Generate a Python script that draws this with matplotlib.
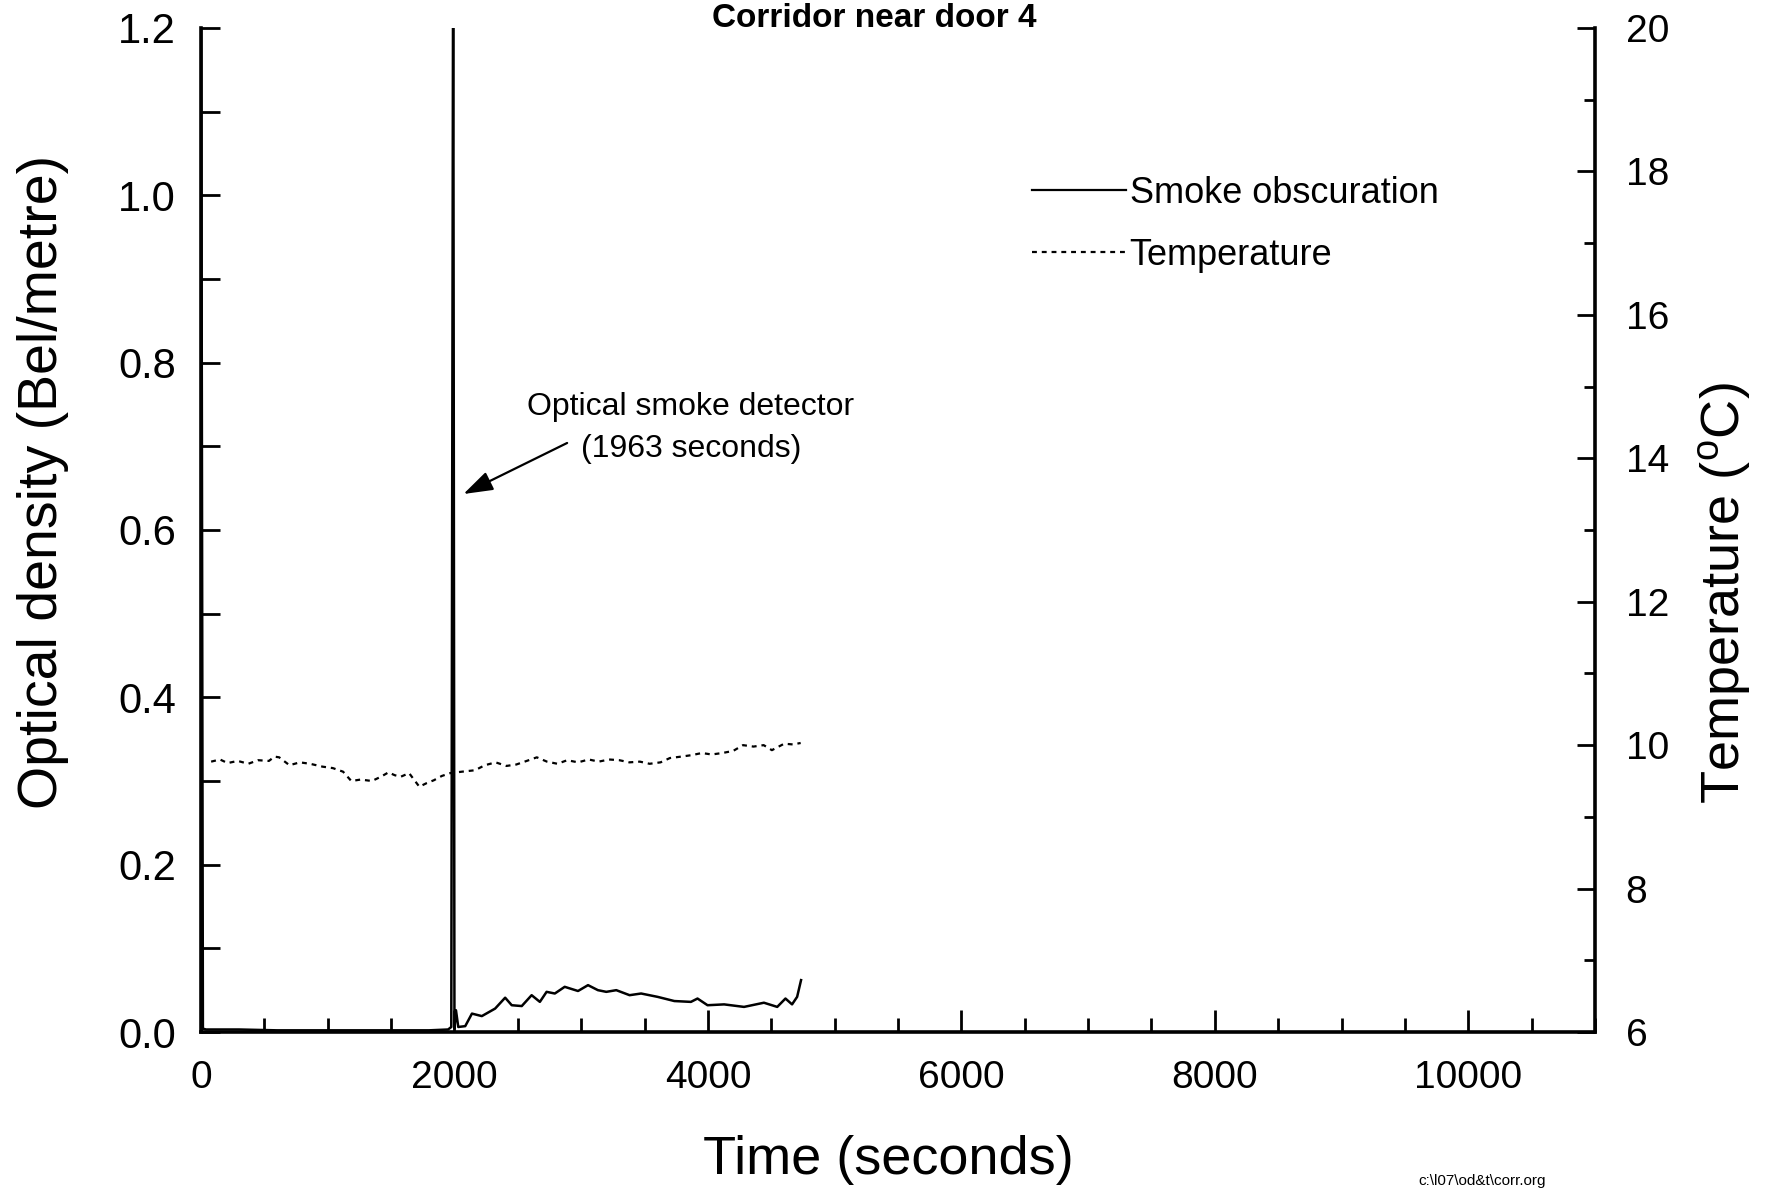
import matplotlib
matplotlib.use('Agg')
import matplotlib.pyplot as plt
from matplotlib.ticker import MultipleLocator
from matplotlib.lines import Line2D

plt.rcParams['font.family'] = ['Liberation Sans', 'DejaVu Sans']
plt.rcParams['mathtext.fontset'] = 'custom'
plt.rcParams['mathtext.rm'] = 'Liberation Sans'

# smoke obscuration (Bel/metre)
smoke_t = [0, 15, 40, 300, 600, 900, 1200, 1500, 1800, 1950, 1975, 1990, 2000,
           2012, 2030, 2085, 2138, 2216, 2321, 2400, 2452, 2531, 2609, 2674, 2727,
           2792, 2870, 2975, 3054, 3132, 3198, 3277, 3382, 3473, 3603, 3735, 3866,
           3918, 3997, 4128, 4285, 4442, 4547, 4612, 4664, 4704, 4735]
smoke_od = [1.35, 0.004, 0.003, 0.003, 0.002, 0.002, 0.002, 0.002, 0.002, 0.003, 0.006, 1.35, 0.004,
            0.026, 0.006, 0.007, 0.022, 0.019, 0.028, 0.041, 0.032, 0.031, 0.044, 0.036, 0.048,
            0.046, 0.054, 0.049, 0.056, 0.050, 0.048, 0.050, 0.044, 0.046, 0.042, 0.037, 0.036,
            0.040, 0.032, 0.033, 0.030, 0.035, 0.030, 0.040, 0.033, 0.042, 0.062]

# temperature (deg C)
temp_t = [80, 150, 210, 290, 373, 450, 536, 580, 617, 698, 780, 861, 959, 1040, 1121,
          1186, 1260, 1349, 1420, 1479, 1530, 1577, 1642, 1723, 1780, 1837, 1900, 1967,
          2060, 2162, 2240, 2325, 2410, 2488, 2570, 2650, 2730, 2813, 2890, 2975, 3060,
          3138, 3220, 3301, 3380, 3463, 3540, 3626, 3700, 3789, 3870, 3952, 4030, 4114,
          4200, 4277, 4360, 4440, 4505, 4602, 4670, 4732]
temp_c = [9.77, 9.80, 9.75, 9.78, 9.74, 9.79, 9.78, 9.84, 9.83, 9.72, 9.76, 9.74, 9.70, 9.68, 9.63,
          9.50, 9.52, 9.50, 9.56, 9.62, 9.58, 9.56, 9.61, 9.42, 9.47, 9.51, 9.57, 9.61,
          9.63, 9.65, 9.72, 9.76, 9.71, 9.73, 9.78, 9.83, 9.77, 9.74, 9.79, 9.76, 9.80,
          9.77, 9.80, 9.79, 9.76, 9.77, 9.74, 9.76, 9.82, 9.84, 9.86, 9.89, 9.87, 9.89,
          9.92, 10.00, 9.98, 10.00, 9.93, 10.02, 10.01, 10.03]

detector_t = 1963

W, H = 1774, 1196
fig = plt.figure(figsize=(W / 100, H / 100), dpi=100)
ax = fig.add_axes([201 / W, 1 - 1032 / H, (1595 - 201) / W, (1032 - 28) / H])
ax2 = ax.twinx()

ax.plot(smoke_t, smoke_od, color='black', lw=1.8)
ax2.plot(temp_t, temp_c, color='black', lw=1.6, ls=(0, (2.2, 2.2)))

ax.set_xlim(0, 11000)
ax.set_ylim(0, 1.2)
ax2.set_ylim(6, 20)

for s in ('top', 'right'):
    ax.spines[s].set_visible(False)
for s in ('top', 'left', 'bottom'):
    ax2.spines[s].set_visible(False)
ax.spines['left'].set_linewidth(2.6)
ax.spines['bottom'].set_linewidth(2.6)
ax2.spines['right'].set_linewidth(2.6)

ax.xaxis.set_major_locator(MultipleLocator(2000))
ax.xaxis.set_minor_locator(MultipleLocator(500))
ax.yaxis.set_major_locator(MultipleLocator(0.2))
ax.yaxis.set_minor_locator(MultipleLocator(0.1))
ax2.yaxis.set_major_locator(MultipleLocator(2))
ax2.yaxis.set_minor_locator(MultipleLocator(1))

ax.tick_params(axis='x', which='major', direction='in', length=16, width=2, labelsize=28, pad=20)
ax.tick_params(axis='x', which='minor', direction='in', length=10, width=2)
ax.tick_params(axis='y', which='major', direction='in', length=14, width=2, labelsize=30, pad=18)
ax.tick_params(axis='y', which='minor', direction='in', length=14, width=2)
ax2.tick_params(axis='y', which='major', direction='in', length=13, width=2, labelsize=28, pad=22)
ax2.tick_params(axis='y', which='minor', direction='in', length=8, width=2)
ax.yaxis.set_major_formatter(plt.FuncFormatter(lambda v, p: '%.1f' % v))

fig.text(888 / W, 1 - 1160 / H, 'Time (seconds)', fontsize=39, ha='center', va='center')
fig.text(43 / W, 1 - 482 / H, 'Optical density (Bel/metre)', fontsize=40,
         rotation=90, ha='center', va='center')
fig.text(1725 / W, 1 - 593 / H, 'Temperature ($^{\\rm o}$C)', fontsize=39,
         rotation=90, ha='center', va='center')
fig.text(874 / W, 1 - 3 / H, 'Corridor near door 4', fontsize=24, fontweight='bold',
         ha='center', va='top')

ax.text(3867, 0.722, 'Optical smoke detector\n(%d seconds)' % detector_t, fontsize=23,
        ha='center', va='center', linespacing=1.55)
ax.annotate('', xy=(2071, 0.643), xytext=(2889, 0.704),
            arrowprops=dict(arrowstyle='-|>,head_length=0.9,head_width=0.3',
                            color='black', lw=1.6, mutation_scale=20, shrinkA=0, shrinkB=0))

handles = [Line2D([], [], color='black', lw=1.6),
           Line2D([], [], color='black', lw=1.6, ls=(0, (2.2, 2.2)))]
fig.legend(handles, ['Smoke obscuration', 'Temperature'], loc='upper left',
           bbox_to_anchor=(1032 / W, 1 - 176 / H), frameon=False, fontsize=26,
           handlelength=2.6, handletextpad=0.1, labelspacing=0.75, borderpad=0, borderaxespad=0)

fig.text(1482 / W, 8 / H, 'c:\\l07\\od&t\\corr.org', fontsize=11,
         ha='center', va='bottom')

fig.savefig('out.png', dpi=100)
